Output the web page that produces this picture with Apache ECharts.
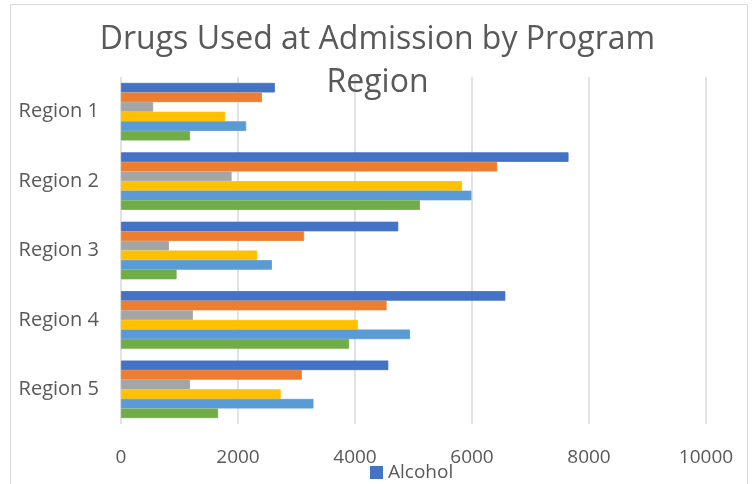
<!DOCTYPE html>
<html>
<head>
<meta charset="utf-8">
<script src="https://cdn.jsdelivr.net/npm/echarts@6/dist/echarts.min.js"></script>
<style>
  html, body { margin: 0; padding: 0; background: #fff; }
  #chart { width: 755px; height: 484px; }
</style>
</head>
<body>
<div id="chart"></div>
<script>
// Admissions by program region, one series per drug
const regions = ['Region 1', 'Region 2', 'Region 3', 'Region 4', 'Region 5'];
const alcohol  = [2630, 7650, 4740, 6570, 4570];
const drug2    = [2410, 6430, 3130, 4540, 3090];
const drug3    = [550, 1890, 820, 1230, 1180];
const drug4    = [1780, 5830, 2330, 4050, 2730];
const drug5    = [2140, 5990, 2580, 4940, 3290];
const drug6    = [1180, 5110, 950, 3900, 1660];
const seriesNames = ['Alcohol', 'Drug 2', 'Drug 3', 'Drug 4', 'Drug 5', 'Drug 6'];
const xTicks = [0, 2000, 4000, 6000, 8000, 10000];

const seriesValues = [alcohol, drug2, drug3, drug4, drug5, drug6];
const colors = ['#4472C4', '#ED7D31', '#A5A5A5', '#FFC000', '#5B9BD5', '#70AD47'];
const FONT = 'Open Sans';
const TEXT = '#595959';

const chart = echarts.init(document.getElementById('chart'), null, { renderer: 'canvas' });
chart.setOption({
  animation: false,
  textStyle: { fontFamily: FONT },
  title: {
    text: 'Drugs Used at Admission by Program\nRegion',
    left: 'center',
    top: 13,
    textStyle: { fontFamily: FONT, fontSize: 32, fontWeight: 'normal', color: TEXT, lineHeight: 43 }
  },
  legend: {
    data: ['Alcohol'],
    top: 458,
    left: 365,
    itemWidth: 11,
    itemHeight: 11,
    itemGap: 6,
    icon: 'rect',
    textStyle: { fontFamily: FONT, fontSize: 19, color: TEXT, padding: [0, 0, 0, 1] }
  },
  graphic: [{
    type: 'rect',
    shape: { x: 10.5, y: 4.5, width: 737, height: 490 },
    style: { fill: 'none', stroke: '#D9D9D9', lineWidth: 1 },
    silent: true,
    z: -1
  }],
  grid: { left: 121, right: 49, top: 77, bottom: 60 },
  xAxis: {
    type: 'value',
    min: xTicks[0],
    max: xTicks[xTicks.length - 1],
    interval: xTicks[1] - xTicks[0],
    axisLine: { show: false },
    axisTick: { show: false },
    axisLabel: { fontFamily: FONT, fontSize: 19, color: TEXT, margin: 24, formatter: v => String(v) },
    splitLine: { lineStyle: { color: '#D9D9D9', width: 1.5 } }
  },
  yAxis: {
    type: 'category',
    data: regions,
    inverse: true,
    axisLine: { show: false },
    axisTick: { show: false },
    axisLabel: { fontFamily: FONT, fontSize: 20, color: TEXT, margin: 22 }
  },
  series: seriesValues.map((vals, i) => ({
    name: seriesNames[i],
    type: 'bar',
    data: vals,
    barGap: '0%',
    barCategoryGap: '17%',
    itemStyle: { color: colors[i], borderColor: colors[i], borderWidth: 0.8 }
  }))
});
</script>
</body>
</html>
